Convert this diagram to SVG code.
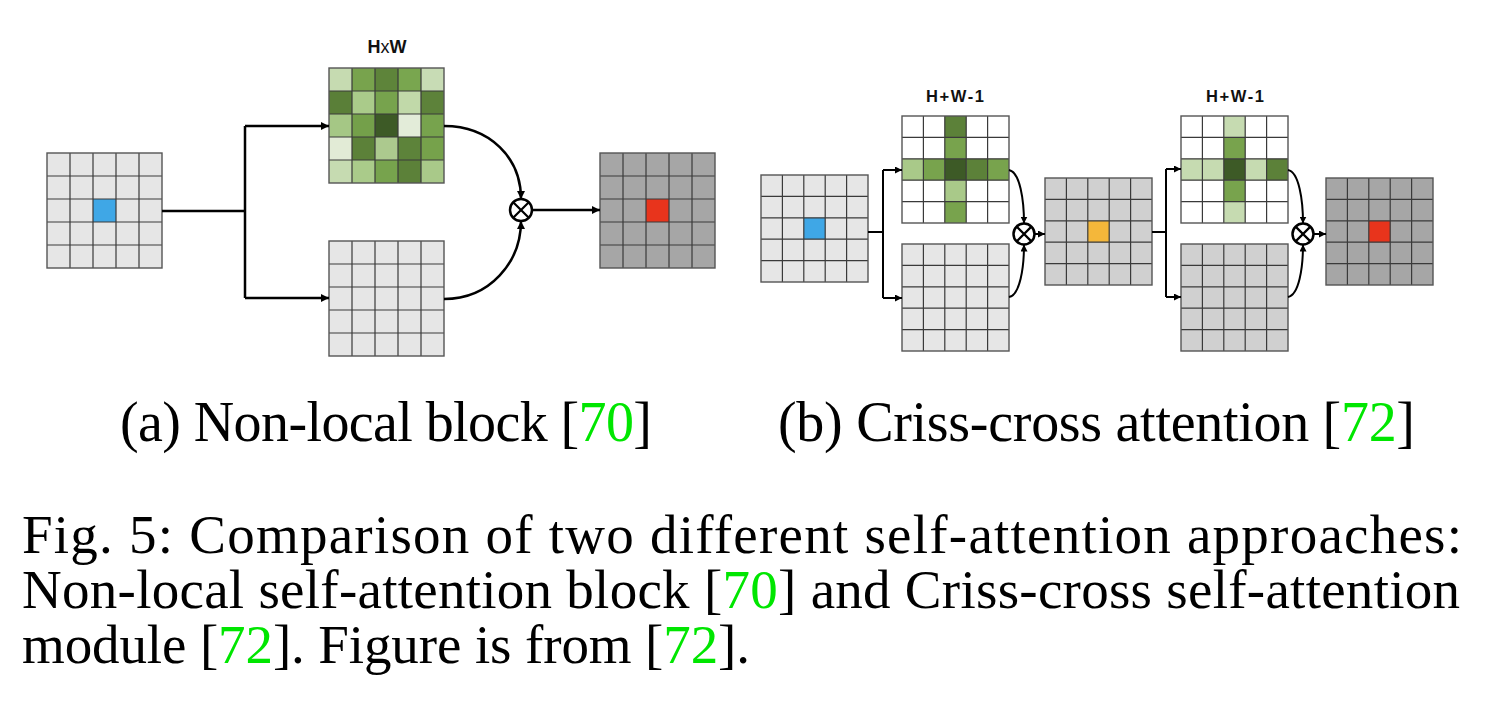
<svg xmlns="http://www.w3.org/2000/svg" width="1489" height="701" viewBox="0 0 1489 701">
<style>
.gl{fill:none;stroke:#3a3a3a;stroke-width:1.2}
.bd{fill:none;stroke:#555;stroke-width:1.4}
.ln{fill:none;stroke:#000;stroke-width:2.5}
.lb{fill:none;stroke:#000;stroke-width:2}
.ot{fill:#fff;stroke:#000;stroke-width:2.5}
.lbl{font-family:"Liberation Sans",Arial,sans-serif;font-weight:bold;fill:#111}
.cap{font-family:"Liberation Serif","Times New Roman",serif;fill:#000}
.ref{fill:#00e600}
</style>
<defs>
<marker id="arr" viewBox="0 0 10 10" refX="10" refY="5" markerWidth="8" markerHeight="8" markerUnits="userSpaceOnUse" orient="auto"><path d="M0,0L10,5L0,10z" fill="#000"/></marker>
<marker id="arrs" viewBox="0 0 10 10" refX="10" refY="5" markerWidth="7" markerHeight="7" markerUnits="userSpaceOnUse" orient="auto"><path d="M0,0L10,5L0,10z" fill="#000"/></marker>
</defs>

<!-- (a) input -->
<g id="a-input">
<rect x="47" y="153" width="115" height="115" fill="#e6e6e6"/>
<rect x="93" y="199" width="23" height="23" fill="#3fa7e6"/>
<path class="gl" d="M70,153V268M93,153V268M116,153V268M139,153V268M47,176H162M47,199H162M47,222H162M47,245H162"/>
<rect class="bd" x="47" y="153" width="115" height="115"/>
</g>

<!-- (a) attention map HxW -->
<g id="a-attn">
<rect x="329" y="68" width="23" height="23" fill="#c6dbb1"/><rect x="352" y="68" width="23" height="23" fill="#78a34d"/><rect x="375" y="68" width="23" height="23" fill="#5e843a"/><rect x="398" y="68" width="23" height="23" fill="#79a64f"/><rect x="421" y="68" width="23" height="23" fill="#c8dcb5"/>
<rect x="329" y="91" width="23" height="23" fill="#5a7f38"/><rect x="352" y="91" width="23" height="23" fill="#aacb8a"/><rect x="375" y="91" width="23" height="23" fill="#77a34d"/><rect x="398" y="91" width="23" height="23" fill="#c1d9a9"/><rect x="421" y="91" width="23" height="23" fill="#5d823a"/>
<rect x="329" y="114" width="23" height="23" fill="#a5c785"/><rect x="352" y="114" width="23" height="23" fill="#74a04a"/><rect x="375" y="114" width="23" height="23" fill="#3d5a26"/><rect x="398" y="114" width="23" height="23" fill="#e3ecd9"/><rect x="421" y="114" width="23" height="23" fill="#77a34d"/>
<rect x="329" y="137" width="23" height="23" fill="#e2ebd6"/><rect x="352" y="137" width="23" height="23" fill="#5c8139"/><rect x="375" y="137" width="23" height="23" fill="#acc98e"/><rect x="398" y="137" width="23" height="23" fill="#5d833a"/><rect x="421" y="137" width="23" height="23" fill="#76a24b"/>
<rect x="329" y="160" width="23" height="23" fill="#c6dbb1"/><rect x="352" y="160" width="23" height="23" fill="#aacb8a"/><rect x="375" y="160" width="23" height="23" fill="#77a34d"/><rect x="398" y="160" width="23" height="23" fill="#5c8139"/><rect x="421" y="160" width="23" height="23" fill="#a9c989"/>
<path class="gl" d="M352,68V183M375,68V183M398,68V183M421,68V183M329,91H444M329,114H444M329,137H444M329,160H444"/>
<rect class="bd" x="329" y="68" width="115" height="115"/>
<text class="lbl" x="387" y="53" font-size="18" text-anchor="middle">H<tspan font-weight="normal">x</tspan>W</text>
</g>

<!-- (a) value -->
<g id="a-value">
<rect x="329" y="241" width="115" height="115" fill="#e6e6e6"/>
<path class="gl" d="M352,241V356M375,241V356M398,241V356M421,241V356M329,264H444M329,287H444M329,310H444M329,333H444"/>
<rect class="bd" x="329" y="241" width="115" height="115"/>
</g>

<!-- (a) output -->
<g id="a-output">
<rect x="600" y="153" width="115" height="115" fill="#a6a6a6"/>
<rect x="646" y="199" width="23" height="23" fill="#e8341c"/>
<path class="gl" d="M623,153V268M646,153V268M669,153V268M692,153V268M600,176H715M600,199H715M600,222H715M600,245H715"/>
<rect class="bd" x="600" y="153" width="115" height="115"/>
</g>

<g id="a-mul">
<circle class="ot" cx="521" cy="210" r="11"/>
<path d="M513.2,202.2L528.8,217.8M528.8,202.2L513.2,217.8" stroke="#000" stroke-width="2.2"/>
</g>

<!-- (b) input -->
<g id="b-input">
<rect x="761" y="175" width="107" height="107" fill="#e6e6e6"/>
<rect x="803.8" y="217.8" width="21.4" height="21.4" fill="#3fa7e6"/>
<path class="gl" d="M782.4,175V282M803.8,175V282M825.2,175V282M846.6,175V282M761,196.4H868M761,217.8H868M761,239.2H868M761,260.6H868"/>
<rect class="bd" x="761" y="175" width="107" height="107"/>
</g>

<!-- (b) criss-cross map 1 -->
<g id="b-attn1">
<rect x="902" y="116" width="107" height="107" fill="#fff"/>
<rect x="944.8" y="116" width="21.4" height="21.4" fill="#5c8139"/>
<rect x="944.8" y="137.4" width="21.4" height="21.4" fill="#78a34d"/>
<rect x="944.8" y="158.8" width="21.4" height="21.4" fill="#3d5a26"/>
<rect x="944.8" y="180.2" width="21.4" height="21.4" fill="#a9c989"/>
<rect x="944.8" y="201.6" width="21.4" height="21.4" fill="#78a34d"/>
<rect x="902" y="158.8" width="21.4" height="21.4" fill="#a9c989"/>
<rect x="923.4" y="158.8" width="21.4" height="21.4" fill="#78a34d"/>
<rect x="966.2" y="158.8" width="21.4" height="21.4" fill="#5c8139"/>
<rect x="987.6" y="158.8" width="21.4" height="21.4" fill="#78a34d"/>
<path class="gl" d="M923.4,116V223M944.8,116V223M966.2,116V223M987.6,116V223M902,137.4H1009M902,158.8H1009M902,180.2H1009M902,201.6H1009"/>
<rect class="bd" x="902" y="116" width="107" height="107"/>
<text class="lbl" x="955" y="102" font-size="16.5" text-anchor="middle" textLength="58" lengthAdjust="spacing">H+W-1</text>
</g>

<g id="b-value1">
<rect x="902" y="244" width="107" height="107" fill="#e6e6e6"/>
<path class="gl" d="M923.4,244V351M944.8,244V351M966.2,244V351M987.6,244V351M902,265.4H1009M902,286.8H1009M902,308.2H1009M902,329.6H1009"/>
<rect class="bd" x="902" y="244" width="107" height="107"/>
</g>

<g id="b-mul1">
<circle class="ot" cx="1024" cy="234" r="10.5"/>
<path d="M1016.6,226.6L1031.4,241.4M1031.4,226.6L1016.6,241.4" stroke="#000" stroke-width="2.2"/>
</g>

<!-- (b) intermediate -->
<g id="b-mid">
<rect x="1045" y="178" width="107" height="107" fill="#d0d0d0"/>
<rect x="1087.8" y="220.8" width="21.4" height="21.4" fill="#f4b73a"/>
<path class="gl" d="M1066.4,178V285M1087.8,178V285M1109.2,178V285M1130.6,178V285M1045,199.4H1152M1045,220.8H1152M1045,242.2H1152M1045,263.6H1152"/>
<rect class="bd" x="1045" y="178" width="107" height="107"/>
</g>

<!-- (b) criss-cross map 2 -->
<g id="b-attn2">
<rect x="1181" y="116" width="107" height="107" fill="#fff"/>
<rect x="1223.8" y="116" width="21.4" height="21.4" fill="#c6dbb1"/>
<rect x="1223.8" y="137.4" width="21.4" height="21.4" fill="#78a34d"/>
<rect x="1223.8" y="158.8" width="21.4" height="21.4" fill="#3d5a26"/>
<rect x="1223.8" y="180.2" width="21.4" height="21.4" fill="#78a34d"/>
<rect x="1223.8" y="201.6" width="21.4" height="21.4" fill="#c6dbb1"/>
<rect x="1181" y="158.8" width="21.4" height="21.4" fill="#c6dbb1"/>
<rect x="1202.4" y="158.8" width="21.4" height="21.4" fill="#c6dbb1"/>
<rect x="1245.2" y="158.8" width="21.4" height="21.4" fill="#c6dbb1"/>
<rect x="1266.6" y="158.8" width="21.4" height="21.4" fill="#5c8139"/>
<path class="gl" d="M1202.4,116V223M1223.8,116V223M1245.2,116V223M1266.6,116V223M1181,137.4H1288M1181,158.8H1288M1181,180.2H1288M1181,201.6H1288"/>
<rect class="bd" x="1181" y="116" width="107" height="107"/>
<text class="lbl" x="1235" y="102" font-size="16.5" text-anchor="middle" textLength="58" lengthAdjust="spacing">H+W-1</text>
</g>

<g id="b-value2">
<rect x="1181" y="244" width="107" height="107" fill="#d0d0d0"/>
<path class="gl" d="M1202.4,244V351M1223.8,244V351M1245.2,244V351M1266.6,244V351M1181,265.4H1288M1181,286.8H1288M1181,308.2H1288M1181,329.6H1288"/>
<rect class="bd" x="1181" y="244" width="107" height="107"/>
</g>

<g id="b-mul2">
<circle class="ot" cx="1303" cy="234" r="10.5"/>
<path d="M1295.6,226.6L1310.4,241.4M1310.4,226.6L1295.6,241.4" stroke="#000" stroke-width="2.2"/>
</g>

<!-- (b) output -->
<g id="b-output">
<rect x="1326" y="178" width="107" height="107" fill="#a6a6a6"/>
<rect x="1368.8" y="220.8" width="21.4" height="21.4" fill="#e8341c"/>
<path class="gl" d="M1347.4,178V285M1368.8,178V285M1390.2,178V285M1411.6,178V285M1326,199.4H1433M1326,220.8H1433M1326,242.2H1433M1326,263.6H1433"/>
<rect class="bd" x="1326" y="178" width="107" height="107"/>
</g>

<!-- connectors -->
<g id="connectors">
<path class="ln" d="M162,211H245M245,126V298"/>
<path class="ln" d="M245,126H329" marker-end="url(#arr)"/>
<path class="ln" d="M245,298H329" marker-end="url(#arr)"/>
<path class="ln" d="M444,126C490,126 521,158 521,199" marker-end="url(#arr)"/>
<path class="ln" d="M444,299C490,299 521,262 521,221" marker-end="url(#arr)"/>
<path class="ln" d="M532,210H600" marker-end="url(#arr)"/>

<path class="lb" d="M868,232H883M883,170V298"/>
<path class="lb" d="M883,170H902" marker-end="url(#arrs)"/>
<path class="lb" d="M883,298H902" marker-end="url(#arrs)"/>
<path class="lb" d="M1009,170C1020,172 1024,200 1024,223.5" marker-end="url(#arrs)"/>
<path class="lb" d="M1009,297C1020,295 1024,268 1024,244.5" marker-end="url(#arrs)"/>
<path class="lb" d="M1034.5,234H1045" marker-end="url(#arrs)"/>

<path class="lb" d="M1152,232H1166M1166,169V297"/>
<path class="lb" d="M1166,169H1181" marker-end="url(#arrs)"/>
<path class="lb" d="M1166,297H1181" marker-end="url(#arrs)"/>
<path class="lb" d="M1288,170C1299,172 1303,200 1303,223.5" marker-end="url(#arrs)"/>
<path class="lb" d="M1288,297C1299,295 1303,268 1303,244.5" marker-end="url(#arrs)"/>
<path class="lb" d="M1313.5,234H1326" marker-end="url(#arrs)"/>
</g>

<!-- captions -->
<text class="cap" x="120" y="441" font-size="56" textLength="532" lengthAdjust="spacing">(a) Non-local block [<tspan class="ref">70</tspan>]</text>
<text class="cap" x="778" y="441" font-size="56" textLength="637" lengthAdjust="spacing">(b) Criss-cross attention [<tspan class="ref">72</tspan>]</text>

<text class="cap" x="22" y="553" font-size="55" textLength="1440" lengthAdjust="spacing">Fig. 5: Comparison of two different self-attention approaches:</text>
<text class="cap" x="22" y="608" font-size="55" textLength="1438" lengthAdjust="spacing">Non-local self-attention block [<tspan class="ref">70</tspan>] and Criss-cross self-attention</text>
<text class="cap" x="22" y="663" font-size="55" textLength="728" lengthAdjust="spacing">module [<tspan class="ref">72</tspan>]. Figure is from [<tspan class="ref">72</tspan>].</text>
</svg>
